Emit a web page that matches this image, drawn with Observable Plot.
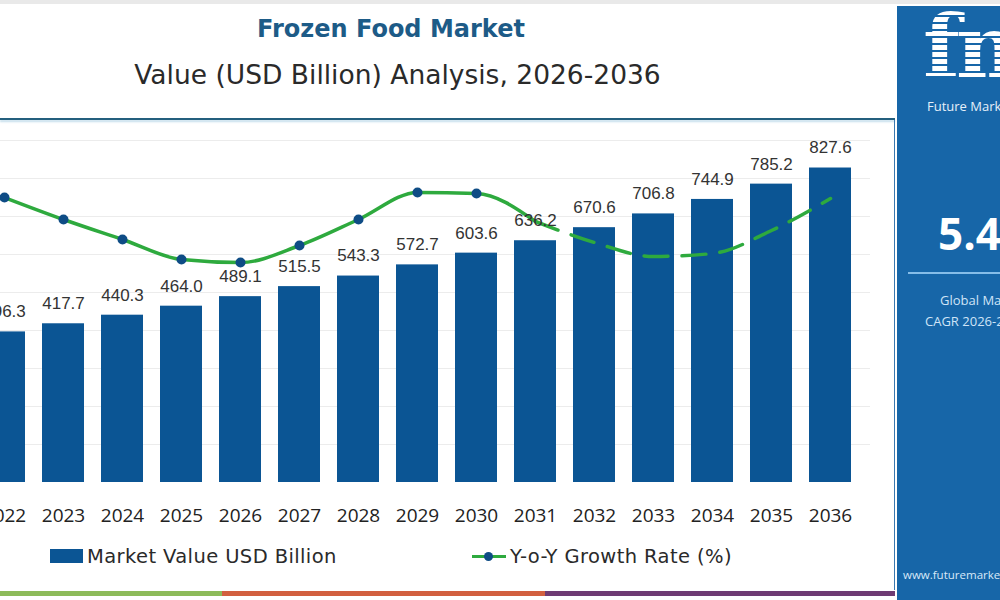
<!DOCTYPE html>
<html>
<head>
<meta charset="utf-8">
<script src="https://cdn.jsdelivr.net/npm/d3@7"></script>
<script src="https://cdn.jsdelivr.net/npm/@observablehq/plot@0.6"></script>
<style>
  html, body { margin: 0; padding: 0; background: #fff; }
  #page { position: relative; width: 1000px; height: 600px; overflow: hidden; background: #fff; font-family: "DejaVu Sans", "Open Sans", sans-serif; }
  #topstrip { position: absolute; left: 0; top: 0; width: 1000px; height: 4px; background: #e9e9e9; }
  #title { position: absolute; left: 0; width: 782px; top: 15px; text-align: center; font-size: 24px; font-weight: 700; color: #1d5b87; }
  #subtitle { position: absolute; left: 0; width: 795px; top: 59px; text-align: center; font-size: 26.5px; color: #2a2a2a; }
  #rule { position: absolute; left: 0; top: 118px; width: 895px; height: 2px; background: #245f7e; box-shadow: 0 2px 2px rgba(120,180,210,0.45); }
  #chart { position: absolute; left: -60px; top: 120px; }
  #legend { position: absolute; top: 543px; left: 0; width: 890px; height: 26px; font-size: 19.5px; letter-spacing: 0.4px; color: #2a2a2a; }
  .lg { position: absolute; top: 0; display: flex; align-items: center; height: 26px; white-space: nowrap; }
  .sw { display: inline-block; width: 33px; height: 14px; background: #0b5594; margin-right: 4px; }
  .ln { position: relative; display: inline-block; width: 34px; height: 14px; margin-right: 4px; }
  .ln::before { content: ""; position: absolute; left: 0; right: 0; top: 6px; height: 3px; background: #2eaa3e; }
  .ln::after { content: ""; position: absolute; left: 12px; top: 3px; width: 9px; height: 9px; border-radius: 50%; background: #0e4c85; }
  #vline { position: absolute; left: 894px; top: 120px; width: 1px; height: 470px; background: #3a78b0; }
  #bands { position: absolute; left: 0; top: 591px; width: 895px; height: 5px; display: flex; }
  #side { position: absolute; left: 897px; top: 6px; width: 103px; height: 594px; background: #1766a8; overflow: hidden; color: #fff; }
  #logo { position: absolute; left: 26px; top: -10px; font-family: "DejaVu Serif", serif; font-weight: 700; font-size: 86px; letter-spacing: -4px;
          background: repeating-linear-gradient(#fff 0 5px, transparent 5px 7px); -webkit-background-clip: text; background-clip: text; color: transparent; white-space: nowrap; }
  #brand { position: absolute; left: 30px; top: 91px; font-family: "Open Sans", sans-serif; font-size: 13px; color: #e6f0fa; white-space: nowrap; }
  #cagr { position: absolute; left: 41px; top: 197px; font-family: "Open Sans", sans-serif; font-size: 44px; font-weight: 700; white-space: nowrap; }
  #sline { position: absolute; left: 11px; top: 266px; width: 100px; height: 2px; background: #86bde8; }
  .sidetext { position: absolute; font-family: "Open Sans", sans-serif; font-size: 13px; color: #cfe4f7; white-space: nowrap; }
  #url { position: absolute; left: 6px; top: 561px; font-family: "Open Sans", sans-serif; font-size: 11.5px; color: #d8e9f8; white-space: nowrap; }
</style>
</head>
<body>
<div id="page">
  <div id="topstrip"></div>
  <div id="title">Frozen Food Market</div>
  <div id="subtitle">Value (USD Billion) Analysis, 2026-2036</div>
  <div id="rule"></div>
  <div id="chart"></div>
  <div id="legend">
    <div class="lg" style="left:50px"><span class="sw"></span>Market Value USD Billion</div>
    <div class="lg" style="left:472px"><span class="ln"></span>Y-o-Y Growth Rate (%)</div>
  </div>
  <div id="vline"></div>
  <div id="bands">
    <div style="width:222px;background:#8dbb5a"></div>
    <div style="width:323px;background:#d2603f"></div>
    <div style="flex:1;background:#6e3b73"></div>
  </div>
  <div id="side">
    <div id="logo">fmi</div>
    <div id="brand">Future Market Insights</div>
    <div id="cagr">5.4%</div>
    <div id="sline"></div>
    <div class="sidetext" style="left:43px;top:285px">Global Market</div>
    <div class="sidetext" style="left:28px;top:306px">CAGR 2026-2036</div>
    <div id="url">www.futuremarketinsights.com</div>
  </div>
</div>
<script>
// Market size by year (USD billion)
const years = [2022, 2023, 2024, 2025, 2026, 2027, 2028, 2029, 2030, 2031, 2032, 2033, 2034, 2035, 2036];
const marketValue = [396.3, 417.7, 440.3, 464.0, 489.1, 515.5, 543.3, 572.7, 603.6, 636.2, 670.6, 706.8, 744.9, 785.2, 827.6];
// Year-over-year growth rate (%)
const growthRate = [5.75, 5.53, 5.33, 5.13, 5.10, 5.27, 5.53, 5.80, 5.79, 5.51, 5.30, 5.16, 5.19, 5.42, 5.74];
// Growth line: solid with markers through the history, dashed for the outlook
const lastMarkedYear = 2030;
const lastSolidYear = 2031;

// Secondary axis: growth rate is mapped onto the value axis
const valueDomain = [0, 900];
const growthDomain = [2.9, 6.32];
const growthToValue = d3.scaleLinear(growthDomain, valueDomain);

const rows = years.map((year, i) => ({
  year,
  value: marketValue[i],
  growth: growthRate[i],
  gy: growthToValue(growthRate[i])
}));
const solid = rows.filter(d => d.year <= lastSolidYear);
const dashed = rows.filter(d => d.year >= lastSolidYear);
const marked = rows.filter(d => d.year <= lastMarkedYear);

const chart = Plot.plot({
  width: 960,
  height: 410,
  marginLeft: 23,
  marginRight: 30,
  marginTop: 20,
  marginBottom: 48,
  style: { fontFamily: "'Open Sans', 'DejaVu Sans', sans-serif", background: "transparent", overflow: "visible" },
  x: { type: "band", domain: years, padding: 0.29, axis: null, label: null },
  y: { domain: valueDomain, axis: null, label: null },
  marks: [
    Plot.gridY(d3.range(100, 1000, 100), { stroke: "#ececec", strokeOpacity: 1 }),
    Plot.barY(rows, { x: "year", y: "value", fill: "#0b5594" }),
    Plot.axisX({ label: null, tickSize: 0, tickPadding: 26, fontSize: 19, fill: "#222", tickFormat: d => `${d}` }),
    Plot.line(solid, { x: "year", y: "gy", curve: "monotone-x", stroke: "#2eaa3e", strokeWidth: 3.5 }),
    Plot.line(dashed, { x: "year", y: "gy", curve: "monotone-x", stroke: "#2eaa3e", strokeWidth: 3.5, strokeDasharray: "24,14" }),
    Plot.dot(marked, { x: "year", y: "gy", r: 5, fill: "#0e4c85" }),
    Plot.text(rows, { x: "year", y: "value", text: d => d.value.toFixed(1), dy: -20, fontSize: 17, fill: "#333", fontFamily: "'Liberation Sans', Arial, sans-serif" })
  ]
});
document.getElementById("chart").appendChild(chart);
</script>
</body>
</html>
